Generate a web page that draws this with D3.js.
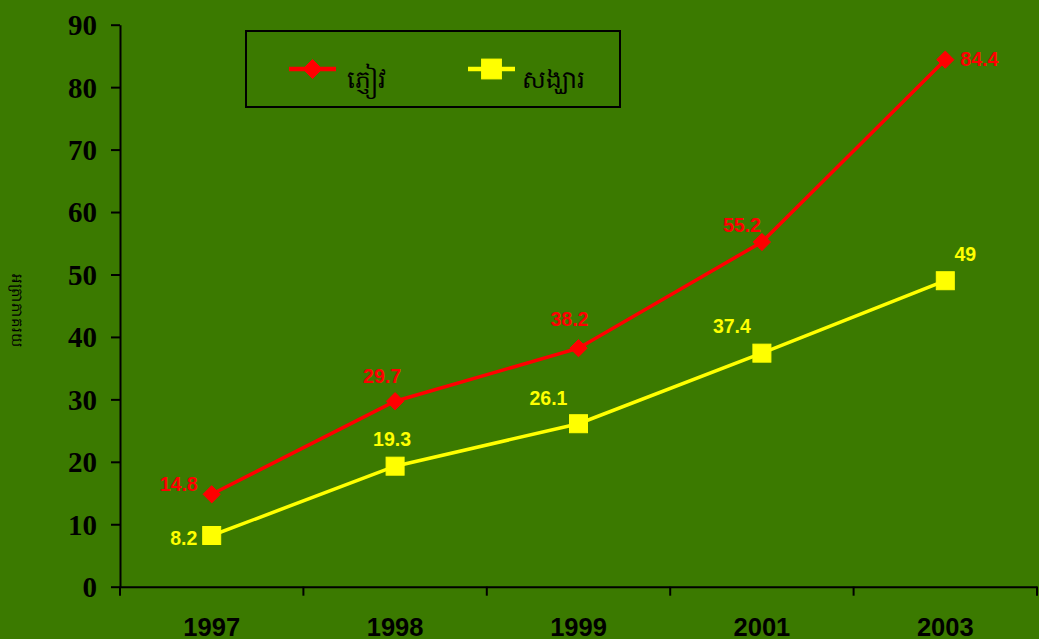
<!DOCTYPE html>
<html>
<head>
<meta charset="utf-8">
<script src="https://cdn.jsdelivr.net/npm/d3@7"></script>
<style>
  html, body { margin: 0; padding: 0; background: #3b7a00; }
  svg { display: block; }
</style>
</head>
<body>
<svg id="chart" width="1039" height="639"></svg>
<script>
// Years on the category axis
const years = ["1997", "1998", "1999", "2001", "2003"];
// Percentage values per series
const visitorValues = [14.8, 29.7, 38.2, 55.2, 84.4];
const secondValues = [8.2, 19.3, 26.1, 37.4, 49];
// Series names
const seriesNames = ["ភ្ញៀវ", "សង្ឃារ"];
// Value-axis ticks
const yTicks = [0, 10, 20, 30, 40, 50, 60, 70, 80, 90];
const yAxisTitle = "អត្រាភាគរយ";

// Label offsets (dx, dy) from each marker, in pixels
const visitorLabelOffsets = [[-33, -3], [-13, -18], [-9, -22], [-20, -10], [34, 6]];
const secondLabelOffsets = [[-28, 10], [-3, -20], [-30, -19], [-30, -20], [20, -20]];

const svg = d3.select("#chart");
const W = 1039, H = 639;
const bg = "#3b7a00";
svg.append("rect").attr("width", W).attr("height", H).attr("fill", bg);

const plotLeft = 120, plotRight = 1037, plotTop = 24.7, plotBottom = 586.7;

const x = d3.scaleBand().domain(years).range([plotLeft, plotRight]).padding(0);
const y = d3.scaleLinear().domain([0, 90]).range([plotBottom, plotTop]);
const cx = d => x(d) + x.bandwidth() / 2;

// Y axis
const yAxis = svg.append("g")
  .attr("transform", `translate(${plotLeft},0)`)
  .call(d3.axisLeft(y).tickValues(yTicks).tickSize(9).tickSizeOuter(0).tickPadding(14).tickFormat(d3.format("d")));
yAxis.select(".domain").attr("stroke", "#000").attr("stroke-width", 2);
yAxis.selectAll(".tick line").attr("stroke", "#000").attr("stroke-width", 2);
yAxis.selectAll("text")
  .attr("fill", "#000")
  .attr("font-family", "'Liberation Serif', 'Times New Roman', serif")
  .attr("font-weight", "bold")
  .attr("font-size", 29)
  .attr("dy", "0.34em");

// X axis: labels at band centres, tick marks at band boundaries
const xAxis = svg.append("g")
  .attr("transform", `translate(0,${plotBottom})`)
  .call(d3.axisBottom(x).tickSize(0).tickSizeOuter(0).tickPadding(31));
xAxis.select(".domain").attr("stroke", "#000").attr("stroke-width", 2);
xAxis.selectAll("text")
  .attr("fill", "#000")
  .attr("font-family", "'Liberation Sans', Arial, sans-serif")
  .attr("font-weight", "bold")
  .attr("font-size", 25.5);
const boundaries = years.map(d => x(d)).concat([x.range()[1]]);
xAxis.selectAll("line.bound")
  .data(boundaries)
  .join("line")
  .attr("class", "bound")
  .attr("x1", d => d).attr("x2", d => d)
  .attr("y1", 0).attr("y2", 9)
  .attr("stroke", "#000").attr("stroke-width", 2);

// Y axis title
svg.append("text")
  .attr("transform", `translate(12,310) rotate(90)`)
  .attr("text-anchor", "middle")
  .attr("font-family", "'Noto Sans', 'DejaVu Sans', sans-serif")
  .attr("font-size", 15)
  .attr("fill", "#000")
  .text(yAxisTitle);

const line = d3.line().x((d, i) => cx(years[i])).y(d => y(d));

// Series
const series = [
  { name: seriesNames[0], values: visitorValues, color: "#ff0000", marker: "diamond", offsets: visitorLabelOffsets },
  { name: seriesNames[1], values: secondValues, color: "#ffff00", marker: "square", offsets: secondLabelOffsets }
];

function drawMarker(g, type, color, scale) {
  const k = scale || 1;
  if (type === "diamond") {
    g.append("path")
      .attr("d", d3.symbol().type(d3.symbolDiamond2).size(190 * k * k)())
      .attr("fill", color).attr("stroke", color).attr("stroke-width", 1);
  } else {
    const h = 9 * k;
    g.append("rect")
      .attr("x", -h).attr("y", -h).attr("width", 2 * h).attr("height", 2 * h)
      .attr("fill", color).attr("stroke", color).attr("stroke-width", 1);
  }
}

// Draw lower series first so the red line sits on top
series.slice().reverse().forEach(s => {
  svg.append("path")
    .datum(s.values)
    .attr("d", line)
    .attr("fill", "none")
    .attr("stroke", s.color)
    .attr("stroke-width", 3.5);
  s.values.forEach((v, i) => {
    const g = svg.append("g").attr("transform", `translate(${cx(years[i])},${y(v)})`);
    drawMarker(g, s.marker, s.color, 1);
  });
  svg.selectAll(null)
    .data(s.values)
    .join("text")
    .attr("x", (v, i) => cx(years[i]) + s.offsets[i][0])
    .attr("y", (v, i) => y(v) + s.offsets[i][1])
    .attr("text-anchor", "middle")
    .attr("font-family", "'Liberation Sans', Arial, sans-serif")
    .attr("font-weight", "bold")
    .attr("font-size", 19.5)
    .attr("fill", s.color)
    .text(v => v);
});

// Legend
const legend = svg.append("g");
legend.append("rect")
  .attr("x", 246).attr("y", 31).attr("width", 374).attr("height", 76)
  .attr("fill", "none").attr("stroke", "#000").attr("stroke-width", 2);
const legendItems = [
  { s: series[0], x0: 289, tx: 347 },
  { s: series[1], x0: 468, tx: 522 }
];
legendItems.forEach(it => {
  legend.append("line")
    .attr("x1", it.x0).attr("x2", it.x0 + 47)
    .attr("y1", 69).attr("y2", 69)
    .attr("stroke", it.s.color).attr("stroke-width", 4.5);
  const g = legend.append("g").attr("transform", `translate(${it.x0 + 23.5},69)`);
  drawMarker(g, it.s.marker, it.s.color, 1.1);
  legend.append("text")
    .attr("x", it.tx).attr("y", 88)
    .attr("font-family", "'Noto Sans', 'DejaVu Sans', sans-serif")
    .attr("font-size", 25)
    .attr("fill", "#000")
    .text(it.s.name);
});
</script>
</body>
</html>
